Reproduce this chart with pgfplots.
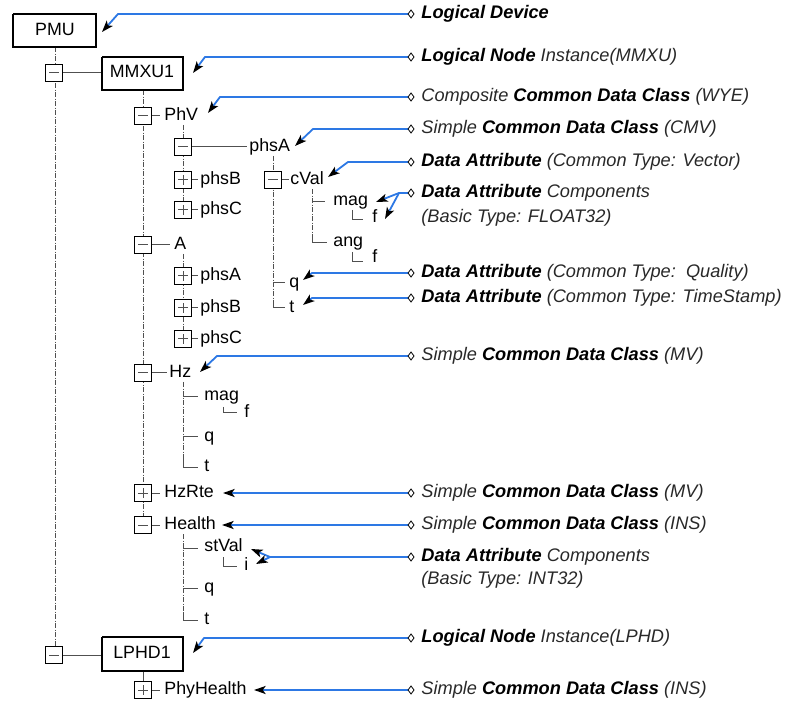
\documentclass[border=0pt]{standalone}
\usepackage{fontspec}
\setmainfont{Liberation Sans}
\usepackage{pgfplots}
\pgfplotsset{compat=1.18}
\usetikzlibrary{arrows.meta}
\definecolor{lnk}{RGB}{45,120,228}
\definecolor{tr}{RGB}{80,80,80}
\definecolor{it}{RGB}{40,40,40}
\newcommand{\bi}[1]{\textbf{\textit{#1}}}
\newcommand{\ii}[1]{{\color{it}\textit{#1}}}
\tikzset{
  lbl/.style={anchor=west, inner sep=0pt, text height=6.2pt, text depth=1.8pt, font=\fontsize{8.9}{10}\selectfont},
  rt/.style={anchor=west, inner sep=0pt, text height=6.4pt, text depth=1.8pt, font=\fontsize{9.1}{10}\selectfont},
}
\begin{document}
\begin{tikzpicture}
\begin{axis}[x=0.5pt, y=0.5pt, y dir=reverse,
  xmin=0, xmax=785, ymin=0, ymax=704,
  hide axis, clip=false,
  tl/.style={tr, line width=0.5pt, no marks},
  dd/.style={tr, line width=0.5pt, no marks, dash pattern=on 2.5pt off 0.8pt on 0.4pt off 0.8pt},
  ar/.style={lnk, line width=0.9pt, no marks, line join=round, -{Stealth[black,length=5.8pt,width=4pt,inset=1.4pt]}},
]
% ---- tree lines
\addplot[dd] coordinates {(55,47) (55,647)};
\addplot[tl] coordinates {(63,73) (102,73)};
\addplot[dd] coordinates {(143,90) (143,517)};
\addplot[tl] coordinates {(152,116) (160,116)};
\addplot[dd] coordinates {(183,125) (183,202)};
\addplot[tl] coordinates {(192,147) (247,147)};
\addplot[tl] coordinates {(192,180) (198,180)};
\addplot[tl] coordinates {(192,210) (198,210)};
\addplot[dd] coordinates {(273,156) (273,303)};
\addplot[tl] coordinates {(273,300) (273,308) (285,308)};
\addplot[tl] coordinates {(282,180) (289,180)};
\addplot[dd] coordinates {(312,189) (312,238)};
\addplot[tl] coordinates {(312,235) (312,243) (327,243)};
\addplot[tl] coordinates {(312,202) (325,202)};
\addplot[tl] coordinates {(352,210) (352,220) (363,220)};
\addplot[tl] coordinates {(352,252) (352,262) (363,262)};
\addplot[tl] coordinates {(273,283) (285,283)};
\addplot[tl] coordinates {(152,245) (170,245)};
\addplot[dd] coordinates {(183,254) (183,331)};
\addplot[tl] coordinates {(192,276) (198,276)};
\addplot[tl] coordinates {(192,308) (198,308)};
\addplot[tl] coordinates {(192,339) (198,339)};
\addplot[tl] coordinates {(152,373) (167,373)};
\addplot[dd] coordinates {(183,382) (183,462)};
\addplot[tl] coordinates {(183,459) (183,467) (198,467)};
\addplot[tl] coordinates {(183,397) (198,397)};
\addplot[tl] coordinates {(223,407) (223,413) (237,413)};
\addplot[tl] coordinates {(183,437) (198,437)};
\addplot[tl] coordinates {(152,493) (160,493)};
\addplot[tl] coordinates {(152,525) (160,525)};
\addplot[dd] coordinates {(183,534) (183,615)};
\addplot[tl] coordinates {(183,612) (183,620) (198,620)};
\addplot[tl] coordinates {(183,548) (198,548)};
\addplot[tl] coordinates {(223,557) (223,566) (237,566)};
\addplot[tl] coordinates {(183,588) (198,588)};
\addplot[tl] coordinates {(63,655) (102,655)};
\addplot[tl] coordinates {(143,671) (143,690)};
\addplot[tl] coordinates {(152,690) (160,690)};
% ---- expand/collapse boxes
\addplot[only marks, mark=square*, mark size=4.2pt, mark options={draw=black, fill=white, line width=0.8pt}]
  coordinates {(54,73) (143,116) (183,147) (183,180) (183,210) (273,180) (143,245) (183,276) (183,308) (183,339) (143,373) (143,493) (143,525) (54,655) (143,690)};
\addplot[only marks, mark=-, mark size=2.3pt, mark options={tr, line width=0.5pt}]
  coordinates {(54,73) (143,116) (183,147) (273,180) (143,245) (143,373) (143,525) (54,655)};
\addplot[only marks, mark=+, mark size=2.3pt, mark options={tr, line width=0.5pt}]
  coordinates {(183,180) (183,210) (183,276) (183,308) (183,339) (143,493) (143,690)};
% ---- labelled boxes
\addplot[black, line width=0.85pt, fill=white, no marks] coordinates {(13,14) (96,14) (96,47) (13,47) (13,14)};
\addplot[black, line width=0.85pt, fill=white, no marks] coordinates {(102,57) (183,57) (183,90) (102,90) (102,57)};
\addplot[black, line width=0.85pt, fill=white, no marks] coordinates {(102,637) (183,637) (183,671) (102,671) (102,637)};
% ---- blue leader arrows
\addplot[ar] coordinates {(409,14) (118,14) (102,32)};
\addplot[ar] coordinates {(409,57) (205,57) (193,73)};
\addplot[ar] coordinates {(409,97) (220,97) (208,113)};
\addplot[ar] coordinates {(409,129) (313,129) (295,146)};
\addplot[ar] coordinates {(409,162) (348,162) (328,177)};
\addplot[ar] coordinates {(409,193) (399,193) (376,202)};
\addplot[ar] coordinates {(399,193) (385,219)};
\addplot[ar] coordinates {(409,273) (312,273) (303,280)};
\addplot[ar] coordinates {(409,298) (312,298) (303,305)};
\addplot[ar] coordinates {(409,356) (217,356) (200,372)};
\addplot[ar] coordinates {(409,493) (223,493)};
\addplot[ar] coordinates {(409,525) (222,525)};
\addplot[ar] coordinates {(409,557) (270,557) (251,549)};
\addplot[ar] coordinates {(270,557) (256,564)};
\addplot[ar] coordinates {(409,638) (204,638) (193,653)};
\addplot[ar] coordinates {(409,690) (254,690)};
\addplot[only marks, mark=diamond*, mark size=2pt, mark options={draw=black, fill=white, line width=0.4pt}]
  coordinates {(411,14) (411,57) (411,97) (411,129) (411,162) (411,193) (411,273) (411,298) (411,356) (411,493) (411,525) (411,557) (411,638) (411,690)};
% ---- tree labels
\node[lbl, anchor=center] at (axis cs:55,31) {PMU};
\node[lbl, anchor=center] at (axis cs:142,73) {MMXU1};
\node[lbl, anchor=center] at (axis cs:142,654) {LPHD1};
\node[lbl] at (axis cs:164,116) {PhV};
\node[lbl] at (axis cs:249,147) {phsA};
\node[lbl] at (axis cs:200,180) {phsB};
\node[lbl] at (axis cs:200,210) {phsC};
\node[lbl] at (axis cs:290,180) {cVal};
\node[lbl] at (axis cs:333,201) {mag};
\node[lbl] at (axis cs:372,218) {f};
\node[lbl] at (axis cs:333,242) {ang};
\node[lbl] at (axis cs:372,258) {f};
\node[lbl] at (axis cs:289,283) {q};
\node[lbl] at (axis cs:289,308) {t};
\node[lbl] at (axis cs:174,245) {A};
\node[lbl] at (axis cs:200,276) {phsA};
\node[lbl] at (axis cs:200,308) {phsB};
\node[lbl] at (axis cs:200,339) {phsC};
\node[lbl] at (axis cs:169,373) {Hz};
\node[lbl] at (axis cs:204,396) {mag};
\node[lbl] at (axis cs:244,413) {f};
\node[lbl] at (axis cs:204,437) {q};
\node[lbl] at (axis cs:204,467) {t};
\node[lbl] at (axis cs:164,493) {HzRte};
\node[lbl] at (axis cs:164,525) {Health};
\node[lbl] at (axis cs:204,547) {stVal};
\node[lbl] at (axis cs:244,566) {i};
\node[lbl] at (axis cs:204,588) {q};
\node[lbl] at (axis cs:204,620) {t};
\node[lbl] at (axis cs:164,690) {PhyHealth};
% ---- right-hand descriptions
\node[rt] at (axis cs:421,14) {\bi{Logical Device}};
\node[rt] at (axis cs:421,57) {\bi{Logical Node} \ii{Instance(MMXU)}};
\node[rt] at (axis cs:421,97) {\ii{Composite} \bi{Common Data Class} \ii{(WYE)}};
\node[rt] at (axis cs:421,129) {\ii{Simple} \bi{Common Data Class} \ii{(CMV)}};
\node[rt] at (axis cs:421,162) {\bi{Data Attribute} \ii{(Common Type: Vector)}};
\node[rt] at (axis cs:421,193) {\bi{Data Attribute} \ii{Components}};
\node[rt] at (axis cs:421,218) {\ii{(Basic Type: FLOAT32)}};
\node[rt] at (axis cs:421,273) {\bi{Data Attribute} \ii{(Common Type:\ \ Quality)}};
\node[rt] at (axis cs:421,298) {\bi{Data Attribute} \ii{(Common Type: TimeStamp)}};
\node[rt] at (axis cs:421,356) {\ii{Simple} \bi{Common Data Class} \ii{(MV)}};
\node[rt] at (axis cs:421,493) {\ii{Simple} \bi{Common Data Class} \ii{(MV)}};
\node[rt] at (axis cs:421,525) {\ii{Simple} \bi{Common Data Class} \ii{(INS)}};
\node[rt] at (axis cs:421,557) {\bi{Data Attribute} \ii{Components}};
\node[rt] at (axis cs:421,580) {\ii{(Basic Type: INT32)}};
\node[rt] at (axis cs:421,638) {\bi{Logical Node} \ii{Instance(LPHD)}};
\node[rt] at (axis cs:421,690) {\ii{Simple} \bi{Common Data Class} \ii{(INS)}};
\end{axis}
\pgfresetboundingbox
\path[use as bounding box] (current axis.south west) rectangle (current axis.north east);
\end{tikzpicture}
\end{document}
